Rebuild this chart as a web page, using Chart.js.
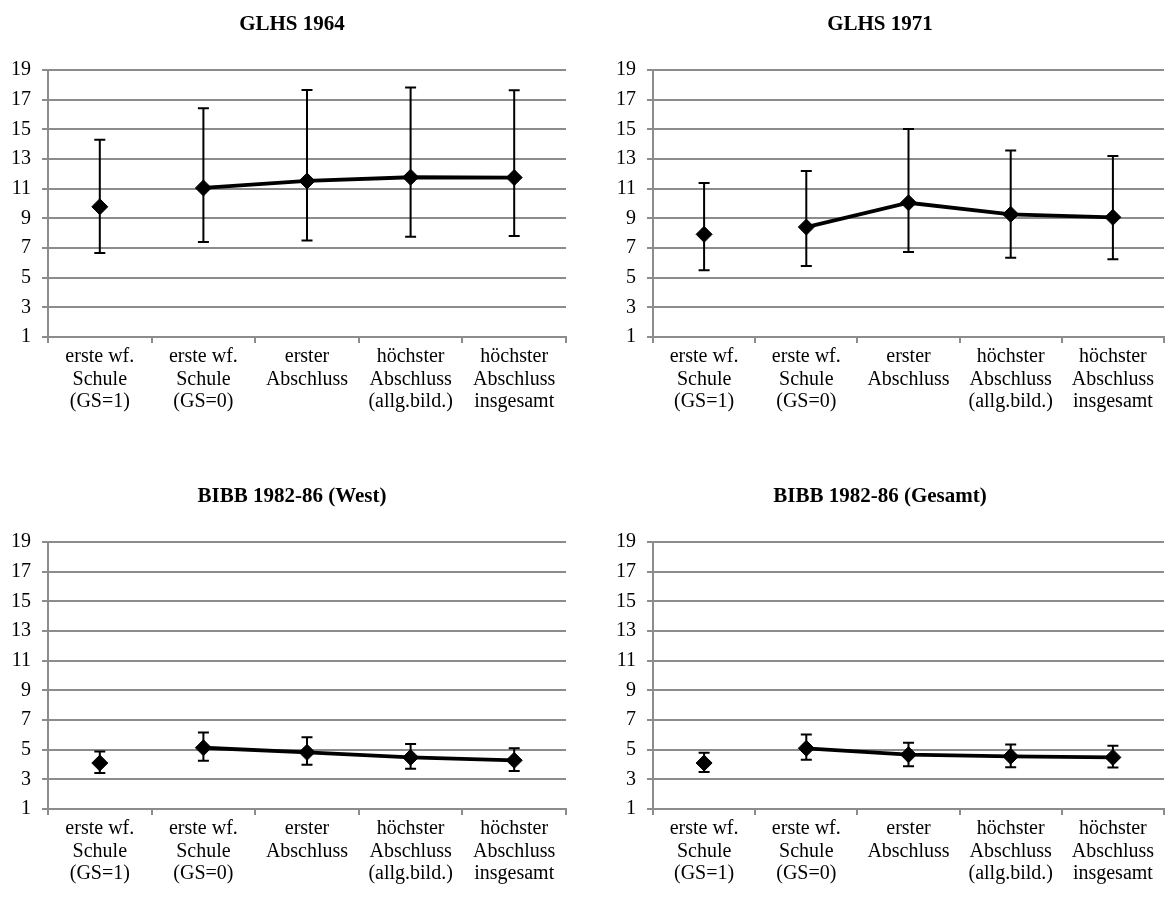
<!DOCTYPE html>
<html><head><meta charset="utf-8">
<script src="https://cdn.jsdelivr.net/npm/chart.js@4.4.0/dist/chart.umd.min.js"></script>
<style>
html,body{margin:0;padding:0;background:#fff;width:1173px;height:898px;overflow:hidden}
.p{position:absolute}
</style></head><body>
<div class="p" style="left:0;top:0;width:586px;height:449px"><canvas id="c1"></canvas></div>
<div class="p" style="left:605px;top:0;width:568px;height:449px"><canvas id="c2"></canvas></div>
<div class="p" style="left:0;top:472px;width:586px;height:426px"><canvas id="c3"></canvas></div>
<div class="p" style="left:605px;top:472px;width:568px;height:426px"><canvas id="c4"></canvas></div>
<script>
const categories = [
  ["erste wf.", "Schule", "(GS=1)"],
  ["erste wf.", "Schule", "(GS=0)"],
  ["erster", "Abschluss"],
  ["höchster", "Abschluss", "(allg.bild.)"],
  ["höchster", "Abschluss", "insgesamt"]
];
const yTicks = [1, 3, 5, 7, 9, 11, 13, 15, 17, 19];

const titles = ["GLHS 1964", "GLHS 1971", "BIBB 1982-86 (West)", "BIBB 1982-86 (Gesamt)"];

const glhs64Mean = [9.78, 11.05, 11.52, 11.77, 11.75];
const glhs64Hi   = [14.30, 16.42, 17.66, 17.82, 17.64];
const glhs64Lo   = [6.67, 7.41, 7.50, 7.76, 7.81];

const glhs71Mean = [7.92, 8.41, 10.05, 9.27, 9.07];
const glhs71Hi   = [11.38, 12.19, 15.02, 13.58, 13.20];
const glhs71Lo   = [5.50, 5.79, 6.73, 6.35, 6.24];

const bibbWestMean = [4.10, 5.13, 4.82, 4.48, 4.28];
const bibbWestHi   = [4.88, 6.15, 5.84, 5.38, 5.10];
const bibbWestLo   = [3.42, 4.25, 3.98, 3.72, 3.56];

const bibbGesMean = [4.10, 5.09, 4.66, 4.55, 4.48];
const bibbGesHi   = [4.80, 6.02, 5.47, 5.34, 5.27];
const bibbGesLo   = [3.49, 4.32, 3.89, 3.82, 3.80];

const FONT = "'Liberation Serif','Times New Roman',serif";
const GRID = '#8c8c8c';

const errorBars = {
  id: 'errorBars',
  beforeDatasetsDraw(chart, args, opts) {
    const {ctx} = chart;
    const x = chart.scales.x, y = chart.scales.y;
    ctx.save();
    ctx.strokeStyle = '#000';
    ctx.lineWidth = 2;
    opts.lo.forEach((lo, i) => {
      const hi = opts.hi[i];
      const px = x.getPixelForValue(i);
      const yl = y.getPixelForValue(lo), yh = y.getPixelForValue(hi);
      ctx.beginPath();
      ctx.moveTo(px, yl); ctx.lineTo(px, yh);
      ctx.moveTo(px - 5.5, yl); ctx.lineTo(px + 5.5, yl);
      ctx.moveTo(px - 5.5, yh); ctx.lineTo(px + 5.5, yh);
      ctx.stroke();
    });
    ctx.restore();
  }
};

const panelTitle = {
  id: 'panelTitle',
  afterDraw(chart, args, opts) {
    const {ctx} = chart;
    ctx.save();
    ctx.font = "bold 21px " + FONT;
    ctx.fillStyle = '#000';
    ctx.textAlign = 'center';
    ctx.textBaseline = 'middle';
    ctx.fillText(opts.text, opts.x, opts.y);
    ctx.restore();
  }
};

function makeChart(id, title, mean, lo, hi, titleX, padRight, xAxisH) {
  new Chart(document.getElementById(id), {
    type: 'line',
    data: {
      labels: categories,
      datasets: [{
        data: mean,
        borderColor: '#000',
        borderWidth: 3.8,
        backgroundColor: '#000',
        pointStyle: 'rectRot',
        pointRadius: 8,
        pointBackgroundColor: '#000',
        pointBorderColor: '#000',
        pointBorderWidth: 1,
        tension: 0,
        segment: {
          borderColor: ctx => ctx.p0DataIndex === 0 ? 'rgba(0,0,0,0)' : '#000'
        }
      }]
    },
    options: {
      responsive: true,
      maintainAspectRatio: false,
      animation: false,
      events: [],
      layout: {padding: {top: 70, left: 0, right: padRight, bottom: 0}},
      plugins: {
        legend: {display: false},
        tooltip: {enabled: false},
        title: {display: false},
        errorBars: {lo: lo, hi: hi},
        panelTitle: {text: title, x: titleX, y: 25}
      },
      scales: {
        x: {
          type: 'category',
          offset: true,
          grid: {
            offset: true,
            drawOnChartArea: false,
            drawTicks: true,
            tickLength: 6,
            color: GRID,
            lineWidth: 2
          },
          border: {display: true, color: GRID, width: 2},
          ticks: {
            color: '#000',
            font: {family: FONT, size: 20, lineHeight: 1.12},
            padding: 3,
            maxRotation: 0,
            autoSkip: false
          },
          afterFit(scale) { scale.height = xAxisH; }
        },
        y: {
          min: 1, max: 19,
          afterBuildTicks(scale) { scale.ticks = yTicks.map(v => ({value: v})); },
          grid: {
            color: GRID,
            lineWidth: 2,
            tickLength: 6,
            drawTicks: true
          },
          border: {display: true, color: GRID, width: 2},
          ticks: {
            color: '#000',
            font: {family: FONT, size: 20},
            padding: 11
          },
          afterFit(scale) { scale.width = 48; }
        }
      }
    },
    plugins: [errorBars, panelTitle]
  });
}

makeChart('c1', titles[0], glhs64Mean, glhs64Lo, glhs64Hi, 292, 20, 112);
makeChart('c2', titles[1], glhs71Mean, glhs71Lo, glhs71Hi, 275, 1, 112);
makeChart('c3', titles[2], bibbWestMean, bibbWestLo, bibbWestHi, 292, 20, 89);
makeChart('c4', titles[3], bibbGesMean, bibbGesLo, bibbGesHi, 275, 1, 89);
</script>
</body></html>
